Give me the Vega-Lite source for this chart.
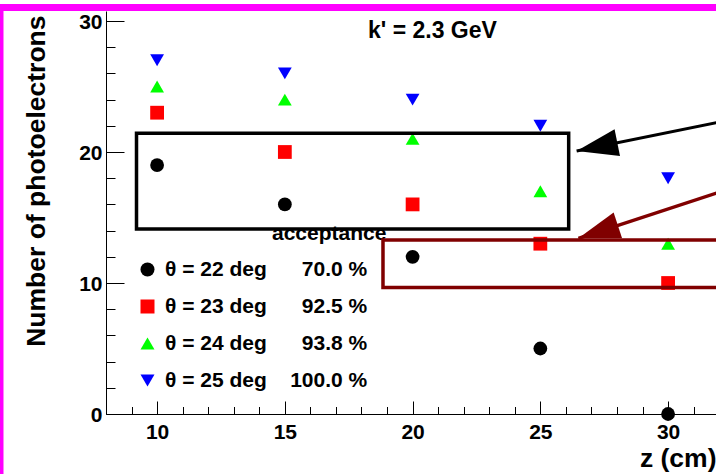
{
  "$schema": "https://vega.github.io/schema/vega-lite/v6.json",
  "width": 610,
  "height": 403,
  "autosize": {"type": "none"},
  "padding": {"left": 106, "top": 11, "right": 0, "bottom": 60},
  "background": "white",
  "config": {
    "view": {"stroke": null},
    "font": "Liberation Sans",
    "axis": {
      "domainColor": "black",
      "tickColor": "black",
      "labelColor": "black",
      "titleColor": "black",
      "grid": false,
      "labelFont": "Liberation Sans",
      "titleFont": "Liberation Sans",
      "labelFontWeight": "bold",
      "titleFontWeight": "bold",
      "domainWidth": 1,
      "tickWidth": 1,
      "labelFlush": false,
      "labelOverlap": false,
      "labelBound": false
    }
  },
  "datasets": {
    "photoelectrons": [
      {"z": 10, "npe": 19, "theta": "θ = 22 deg"},
      {"z": 15, "npe": 16, "theta": "θ = 22 deg"},
      {"z": 20, "npe": 12, "theta": "θ = 22 deg"},
      {"z": 25, "npe": 5, "theta": "θ = 22 deg"},
      {"z": 30, "npe": 0, "theta": "θ = 22 deg"},
      {"z": 10, "npe": 23, "theta": "θ = 23 deg"},
      {"z": 15, "npe": 20, "theta": "θ = 23 deg"},
      {"z": 20, "npe": 16, "theta": "θ = 23 deg"},
      {"z": 25, "npe": 13, "theta": "θ = 23 deg"},
      {"z": 30, "npe": 10, "theta": "θ = 23 deg"},
      {"z": 10, "npe": 25, "theta": "θ = 24 deg"},
      {"z": 15, "npe": 24, "theta": "θ = 24 deg"},
      {"z": 20, "npe": 21, "theta": "θ = 24 deg"},
      {"z": 25, "npe": 17, "theta": "θ = 24 deg"},
      {"z": 30, "npe": 13, "theta": "θ = 24 deg"},
      {"z": 10, "npe": 27, "theta": "θ = 25 deg"},
      {"z": 15, "npe": 26, "theta": "θ = 25 deg"},
      {"z": 20, "npe": 24, "theta": "θ = 25 deg"},
      {"z": 25, "npe": 22, "theta": "θ = 25 deg"},
      {"z": 30, "npe": 18, "theta": "θ = 25 deg"}
    ],
    "single": [{}]
  },
  "layer": [
    {
      "data": {"name": "single"},
      "mark": {"type": "text", "text": "acceptance", "fontSize": 21, "fontWeight": "bold", "color": "black", "align": "left", "baseline": "alphabetic"},
      "encoding": {
        "x": {"datum": 14.497, "type": "quantitative", "scale": {"domain": [8, 31.875], "nice": false, "zero": false}, "axis": null},
        "y": {"datum": 13.28, "type": "quantitative", "scale": {"domain": [0, 30.763], "nice": false, "zero": false}, "axis": null}
      }
    },
    {
      "data": {"name": "photoelectrons"},
      "mark": {"type": "point", "filled": true, "opacity": 1, "size": 190, "strokeWidth": 0},
      "encoding": {
        "x": {
          "field": "z", "type": "quantitative",
          "scale": {"domain": [8, 31.875], "nice": false, "zero": false},
          "axis": {
            "orient": "bottom", "values": [10, 15, 20, 25, 30], "tickSize": -13, "labelPadding": 20.5,
            "labelFontSize": 21, "labelAlign": "center", "labelBaseline": "top",
            "title": "z (cm)", "titleFontSize": 26.5, "titleAlign": "right", "titleBaseline": "alphabetic",
            "titleX": 610, "titleY": 52
          }
        },
        "y": {
          "field": "npe", "type": "quantitative",
          "scale": {"domain": [0, 30.763], "nice": false, "zero": false},
          "axis": {
            "orient": "left", "values": [0, 10, 20, 30], "tickSize": -18, "labelPadding": 22,
            "labelFontSize": 21, "labelAlign": "right", "labelBaseline": "middle", "labelOffset": 1.5,
            "title": "Number of photoelectrons", "titleFontSize": 26.5, "titleAngle": -90,
            "titleAlign": "right", "titleBaseline": "bottom", "titleX": -55.8, "titleY": 4
          }
        },
        "color": {
          "field": "theta", "type": "nominal",
          "scale": {"domain": ["θ = 22 deg", "θ = 23 deg", "θ = 24 deg", "θ = 25 deg"], "range": ["#000000", "#ff0000", "#00ff00", "#0000ff"]},
          "legend": {
            "orient": "none", "legendX": 31, "legendY": 248, "title": null, "direction": "vertical", "padding": 0,
            "labelFont": "Liberation Sans", "labelFontSize": 21, "labelFontWeight": "bold", "labelColor": "black",
            "symbolSize": 196, "symbolStrokeWidth": 0, "symbolOpacity": 1, "rowPadding": 15, "labelOffset": 7, "labelLimit": 400,
            "labelExpr": "datum.label + (datum.label == 'θ = 22 deg' ? '\u00a0\u00a0\u00a0\u00a0\u00a0\u00a070.0 %' : datum.label == 'θ = 23 deg' ? '\u00a0\u00a0\u00a0\u00a0\u00a0\u00a092.5 %' : datum.label == 'θ = 24 deg' ? '\u00a0\u00a0\u00a0\u00a0\u00a0\u00a093.8 %' : '\u00a0\u00a0\u00a0\u00a0100.0 %')"
          }
        },
        "shape": {
          "field": "theta", "type": "nominal",
          "scale": {"domain": ["θ = 22 deg", "θ = 23 deg", "θ = 24 deg", "θ = 25 deg"], "range": ["circle", "square", "triangle-up", "triangle-down"]},
          "legend": {
            "orient": "none", "legendX": 31, "legendY": 248, "title": null, "direction": "vertical", "padding": 0,
            "labelFont": "Liberation Sans", "labelFontSize": 21, "labelFontWeight": "bold", "labelColor": "black",
            "symbolSize": 196, "symbolStrokeWidth": 0, "symbolOpacity": 1, "rowPadding": 15, "labelOffset": 7, "labelLimit": 400,
            "labelExpr": "datum.label + (datum.label == 'θ = 22 deg' ? '\u00a0\u00a0\u00a0\u00a0\u00a0\u00a070.0 %' : datum.label == 'θ = 23 deg' ? '\u00a0\u00a0\u00a0\u00a0\u00a0\u00a092.5 %' : datum.label == 'θ = 24 deg' ? '\u00a0\u00a0\u00a0\u00a0\u00a0\u00a093.8 %' : '\u00a0\u00a0\u00a0\u00a0100.0 %')"
          }
        }
      }
    },
    {
      "data": {"name": "single"},
      "mark": {"type": "rect", "fill": null, "fillOpacity": 0, "stroke": "black", "strokeWidth": 3.5},
      "encoding": {
        "x": {"datum": 9.194, "type": "quantitative", "scale": {"domain": [8, 31.875], "nice": false, "zero": false}, "axis": null},
        "x2": {"datum": 26.109},
        "y": {"datum": 21.43, "type": "quantitative", "scale": {"domain": [0, 30.763], "nice": false, "zero": false}, "axis": null},
        "y2": {"datum": 14.12}
      }
    },
    {
      "data": {"name": "single"},
      "mark": {"type": "rect", "fill": null, "fillOpacity": 0, "stroke": "#800000", "strokeWidth": 3.5},
      "encoding": {
        "x": {"datum": 18.841, "type": "quantitative", "scale": {"domain": [8, 31.875], "nice": false, "zero": false}, "axis": null},
        "x2": {"datum": 33},
        "y": {"datum": 13.28, "type": "quantitative", "scale": {"domain": [0, 30.763], "nice": false, "zero": false}, "axis": null},
        "y2": {"datum": 9.65}
      }
    },
    {
      "data": {"name": "single"},
      "mark": {"type": "rule", "color": "black", "strokeWidth": 3},
      "encoding": {
        "x": {"datum": 32.03, "type": "quantitative", "scale": {"domain": [8, 31.875], "nice": false, "zero": false}, "axis": null},
        "x2": {"datum": 26.42},
        "y": {"datum": 22.3, "type": "quantitative", "scale": {"domain": [0, 30.763], "nice": false, "zero": false}, "axis": null},
        "y2": {"datum": 20.08}
      }
    },
    {
      "data": {"name": "single"},
      "mark": {"type": "point", "shape": "M0,0L2,-0.655L2,0.655Z", "filled": true, "opacity": 1, "color": "black", "strokeWidth": 0, "size": 1722, "angle": 348.5},
      "encoding": {
        "x": {"datum": 26.42, "type": "quantitative", "scale": {"domain": [8, 31.875], "nice": false, "zero": false}, "axis": null},
        "y": {"datum": 20.08, "type": "quantitative", "scale": {"domain": [0, 30.763], "nice": false, "zero": false}, "axis": null}
      }
    },
    {
      "data": {"name": "single"},
      "mark": {"type": "rule", "color": "#800000", "strokeWidth": 3.5},
      "encoding": {
        "x": {"datum": 32.03, "type": "quantitative", "scale": {"domain": [8, 31.875], "nice": false, "zero": false}, "axis": null},
        "x2": {"datum": 26.49},
        "y": {"datum": 16.95, "type": "quantitative", "scale": {"domain": [0, 30.763], "nice": false, "zero": false}, "axis": null},
        "y2": {"datum": 13.41}
      }
    },
    {
      "data": {"name": "single"},
      "mark": {"type": "point", "shape": "M0,0L2,-0.655L2,0.655Z", "filled": true, "opacity": 1, "color": "#800000", "strokeWidth": 0, "size": 1722, "angle": 341.9},
      "encoding": {
        "x": {"datum": 26.49, "type": "quantitative", "scale": {"domain": [8, 31.875], "nice": false, "zero": false}, "axis": null},
        "y": {"datum": 13.41, "type": "quantitative", "scale": {"domain": [0, 30.763], "nice": false, "zero": false}, "axis": null}
      }
    },
    {
      "data": {"name": "single"},
      "mark": {"type": "text", "text": "k' = 2.3 GeV", "fontSize": 23, "fontWeight": "bold", "color": "black", "align": "left", "baseline": "alphabetic"},
      "encoding": {
        "x": {"datum": 18.254, "type": "quantitative", "scale": {"domain": [8, 31.875], "nice": false, "zero": false}, "axis": null},
        "y": {"datum": 28.68, "type": "quantitative", "scale": {"domain": [0, 30.763], "nice": false, "zero": false}, "axis": null}
      }
    },
    {
      "data": {"name": "single"},
      "mark": {"type": "rect", "color": "#ff00ff", "opacity": 1},
      "encoding": {
        "x": {
          "datum": 3.0, "type": "quantitative", "scale": {"domain": [8, 31.875], "nice": false, "zero": false},
          "axis": {"orient": "bottom", "values": [8, 9, 11, 12, 13, 14, 16, 17, 18, 19, 21, 22, 23, 24, 26, 27, 28, 29, 31], "tickSize": -7.5, "labels": false, "domain": false, "title": null}
        },
        "x2": {"datum": 33},
        "y": {
          "datum": 30.763, "type": "quantitative", "scale": {"domain": [0, 30.763], "nice": false, "zero": false},
          "axis": {"orient": "left", "values": [2, 4, 6, 8, 12, 14, 16, 18, 22, 24, 26, 28], "tickSize": -9, "labels": false, "domain": false, "title": null}
        },
        "y2": {"datum": 31.3}
      }
    },
    {
      "data": {"name": "single"},
      "mark": {"type": "rect", "color": "#ff00ff", "opacity": 1},
      "encoding": {
        "x": {"datum": 3.851, "type": "quantitative", "scale": {"domain": [8, 31.875], "nice": false, "zero": false}, "axis": null},
        "x2": {"datum": 3.988},
        "y": {"datum": 31.3, "type": "quantitative", "scale": {"domain": [0, 30.763], "nice": false, "zero": false}, "axis": null},
        "y2": {"datum": -6}
      }
    }
  ],
  "resolve": {"axis": {"x": "independent", "y": "independent"}}
}
